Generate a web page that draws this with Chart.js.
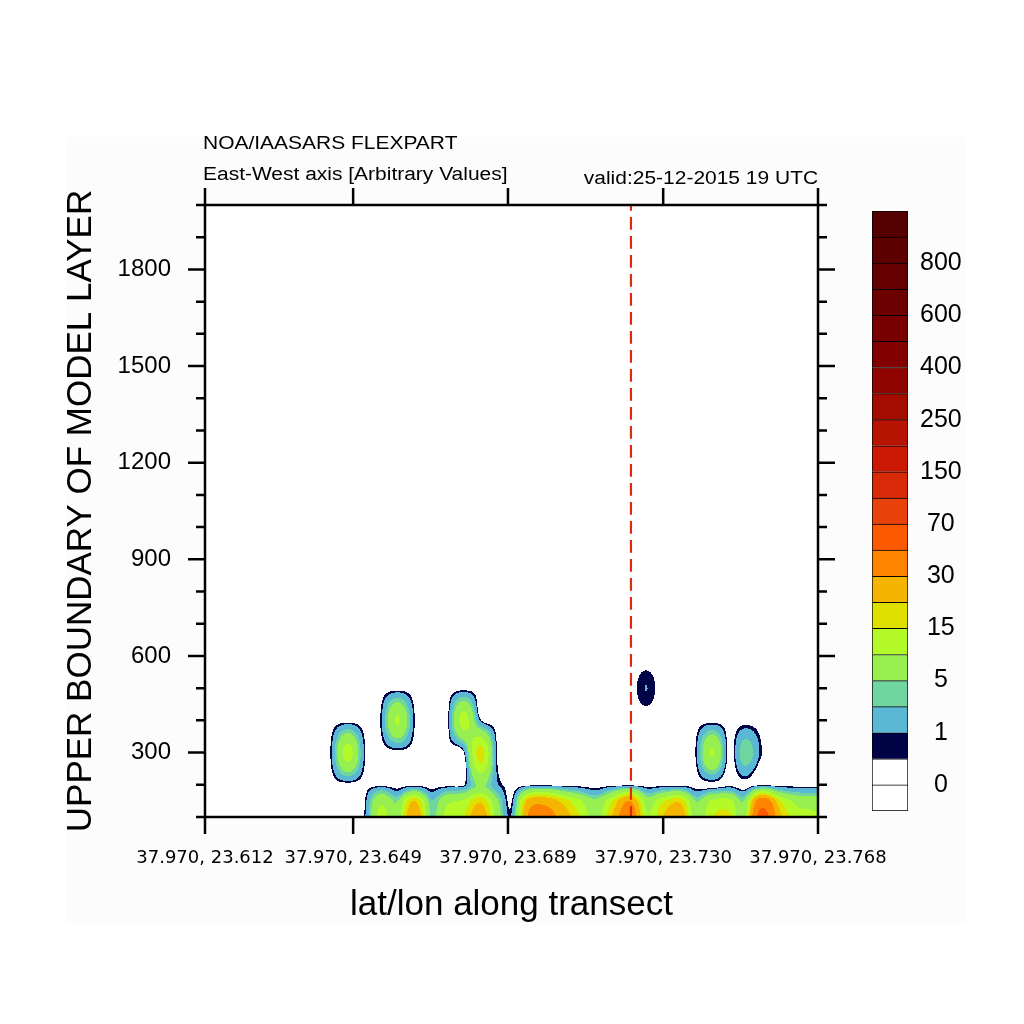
<!DOCTYPE html>
<html>
<head>
<meta charset="utf-8">
<script src="https://cdn.jsdelivr.net/npm/chart.js@4.4.0/dist/chart.umd.min.js"></script>
<style>
  html, body { margin: 0; padding: 0; background: #fff; }
  body { width: 1024px; height: 1024px; position: relative; overflow: hidden; font-family: "Liberation Sans", Arial, sans-serif; }
  #panel { position: absolute; left: 67px; top: 137px; width: 898px; height: 786px; background: #fcfcfc; }
  #main { position: absolute; left: 0; top: 0; }
  #bar { position: absolute; left: 860px; top: 184px; }
  .txt { position: absolute; font-size: 18px; line-height: 18px; white-space: nowrap; color: #000; }
</style>
</head>
<body>
<div id="panel"></div>
<canvas id="main" width="1024" height="1024"></canvas>
<canvas id="bar" width="150" height="654"></canvas>
<div class="txt" style="left:203px;top:134px;transform:scaleX(1.165);transform-origin:left top;">NOA/IAASARS FLEXPART</div>
<div class="txt" style="left:203px;top:165px;transform:scaleX(1.165);transform-origin:left top;">East-West axis [Arbitrary Values]</div>
<div class="txt" style="right:206px;top:169px;transform:scaleX(1.165);transform-origin:right top;">valid:25-12-2015 19 UTC</div>
<script>
// axis ranges and ticks
const xMin = 23.612, xMax = 23.768;
const xTickPos = [23.612, 23.6497, 23.6891, 23.7286, 23.768];
const xTickLabels = ["37.970, 23.612", "37.970, 23.649", "37.970, 23.689", "37.970, 23.730", "37.970, 23.768"];
const yMin = 100, yMax = 2000;
const yTickVals = [300, 600, 900, 1200, 1500, 1800];
const yMinorStep = 100;

// release point marker (dashed line)
const markerLon = 23.7204;

// grid along the transect (39 columns)
const lon0 = 23.6104, dLon = 0.004216;
const rowHeights = [100, 150, 175, 200, 300, 400, 500, 600];

// concentration per model layer height, one value per column
const conc100 = [0,0,0,0,0,0,0,0,0,0, 0.55,12,7,28,5,12,15,26,8,2.3, 34,36,25,15,8,21,42,11,20,27, 7,15,16,9,60,24,13,11,10];
const conc150 = [0,0,0,0,0,0,0,0,0,0, 0.3,9,5,20,3.5,9,11,19,6,1.2, 25,26,18,11,6,15,30,8,14,19, 5,11,12,6,40,17,9,8,7];
const conc175 = [0,0,0,0,0,0,0,0,0,0, 0.1,4.5,1.5,7,1.2,4,5,10,3,0.4, 10,11,7,4,1.8,6,12,3,5,7, 1.5,4,4.5,1.8,14,6,3.5,3,3];
const conc200 = [0,0,0,0,0,0,0,0,0,0, 0,0,0,0,0,0,0.3,6,1.2,0, 0,0,0,0,0,0,0,0,0,0, 0,0,0,0,0,0,0,0,0];
const conc300 = [0,0,0,0,0,0,0,0,0.8,12, 0.8,0,0,0,0,0,0.4,17,0.55,0, 0,0,0,0,0,0,0,0,0,0, 0.6,10.5,0,4.5,0.5,0,0,0,0];
const conc400 = [0,0,0,0,0,0,0,0,0,0, 0,0.7,10.5,0.7,0,0,12,0.8,0,0, 0,0,0,0,0,0,0,0,0,0, 0,0,0,0,0,0,0,0,0];
const conc500 = [0,0,0,0,0,0,0,0,0,0, 0,0,0,0,0,0,0,0,0,0, 0,0,0,0,0,0,0,1.02,0,0, 0,0,0,0,0,0,0,0,0];
const conc600 = [0,0,0,0,0,0,0,0,0,0, 0,0,0,0,0,0,0,0,0,0, 0,0,0,0,0,0,0,0,0,0, 0,0,0,0,0,0,0,0,0];
const rows = [conc100, conc150, conc175, conc200, conc300, conc400, conc500, conc600];

// contour levels and colours
const levels = [0, 0.5, 1, 3, 5, 10, 15, 20, 30, 50, 70, 100, 150, 200, 250, 300, 400, 500, 600, 700, 800, 900];
const levelColors = ["#ffffff", "#ffffff", "#000446", "#5ab8d4", "#70d6a0", "#98f050", "#b4fa28", "#e0e000",
  "#f5b400", "#ff8400", "#fd5900", "#e8420a", "#d82a08", "#cb1a04", "#b81404", "#a40c00", "#900400",
  "#820000", "#780000", "#6c0000", "#640000", "#5c0000", "#540000"];

const rgb = levelColors.map(h => [parseInt(h.slice(1, 3), 16), parseInt(h.slice(3, 5), 16), parseInt(h.slice(5, 7), 16)]);

function levelIndex(v) {
  let i = 0;
  while (i < levels.length && v >= levels[i]) i++;
  return i;
}

function cr(p0, p1, p2, p3, t) {
  return 0.5 * (2 * p1 + (p2 - p0) * t + (2 * p0 - 5 * p1 + 4 * p2 - p3) * t * t + (3 * p1 - p0 - 3 * p2 + p3) * t * t * t);
}

function cell(j, i) {
  if (j >= rows.length) return 0;
  if (j < 0) j = 0;
  const r = rows[j];
  if (i < 0) i = 0;
  if (i > r.length - 1) i = r.length - 1;
  return r[i];
}

// cubic (Catmull-Rom) interpolation between grid nodes
function fieldAt(lon, h) {
  if (h >= rowHeights[rowHeights.length - 1]) return 0;
  const fx = (lon - lon0) / dLon;
  const i = Math.floor(fx), u = fx - i;
  let j = 0;
  while (j < rowHeights.length - 2 && h > rowHeights[j + 1]) j++;
  const v = Math.min(1, Math.max(0, (h - rowHeights[j]) / (rowHeights[j + 1] - rowHeights[j])));
  const r = [];
  for (let k = -1; k <= 2; k++) {
    r.push(cr(cell(j + k, i - 1), cell(j + k, i), cell(j + k, i + 1), cell(j + k, i + 2), u));
  }
  return cr(r[0], r[1], r[2], r[3], v);
}

const fieldPlugin = {
  id: "field",
  beforeDatasetsDraw(chart) {
    const { ctx, chartArea: a, scales: { x, y } } = chart;
    const w = Math.round(a.right - a.left), h = Math.round(a.bottom - a.top);
    const off = document.createElement("canvas");
    off.width = w;
    off.height = h;
    const octx = off.getContext("2d");
    const img = octx.createImageData(w, h);
    for (let py = 0; py < h; py++) {
      const hv = y.getValueForPixel(a.top + py + 0.5);
      for (let px = 0; px < w; px++) {
        const lon = x.getValueForPixel(a.left + px + 0.5);
        const col = rgb[levelIndex(fieldAt(lon, hv))];
        const k = (py * w + px) * 4;
        img.data[k] = col[0];
        img.data[k + 1] = col[1];
        img.data[k + 2] = col[2];
        img.data[k + 3] = 255;
      }
    }
    octx.putImageData(img, 0, 0);
    ctx.drawImage(off, a.left, a.top, w, h);
  }
};

// frame plus outward tick marks on all four sides
const framePlugin = {
  id: "frame",
  afterDraw(chart) {
    const { ctx, chartArea: a, scales: { x, y } } = chart;
    ctx.save();
    ctx.strokeStyle = "#000";
    ctx.lineWidth = 2.5;
    ctx.beginPath();
    xTickPos.forEach(v => {
      const p = x.getPixelForValue(v);
      ctx.moveTo(p, a.bottom); ctx.lineTo(p, a.bottom + 17);
      ctx.moveTo(p, a.top); ctx.lineTo(p, a.top - 17);
    });
    for (let v = yMin; v <= yMax; v += yMinorStep) {
      const p = y.getPixelForValue(v);
      const len = yTickVals.includes(v) ? 17 : 9;
      ctx.moveTo(a.left, p); ctx.lineTo(a.left - len, p);
      ctx.moveTo(a.right, p); ctx.lineTo(a.right + len, p);
    }
    ctx.stroke();
    ctx.strokeRect(a.left, a.top, a.right - a.left, a.bottom - a.top);
    ctx.restore();
  }
};

const noGrid = { display: false, drawTicks: false };
const noBorder = { display: false };

new Chart(document.getElementById("main"), {
  type: "scatter",
  data: {
    datasets: [{
      data: [{ x: markerLon, y: yMin }, { x: markerLon, y: yMax }],
      showLine: true,
      borderColor: "#dd2a10",
      borderWidth: 2.2,
      borderDash: [12.7, 6.3],
      borderDashOffset: 1.7,
      pointRadius: 0
    }]
  },
  options: {
    responsive: false,
    animation: false,
    layout: { padding: 0 },
    plugins: { legend: { display: false }, tooltip: { enabled: false } },
    scales: {
      x: {
        type: "linear", position: "bottom", min: xMin, max: xMax,
        afterBuildTicks: s => { s.ticks = xTickPos.map(v => ({ value: v })); },
        afterFit: s => { s.height = 207; },
        ticks: {
          callback: (val, i) => xTickLabels[i],
          font: { family: "DejaVu Sans", size: 18 }, color: "#000",
          padding: 31, maxRotation: 0, autoSkip: false
        },
        grid: noGrid, border: noBorder,
        title: {
          display: true, text: "lat/lon along transect", color: "#000",
          font: { family: "Liberation Sans", size: 35 }, padding: { top: 0, bottom: 98 }
        }
      },
      x2: {
        type: "linear", position: "top", min: xMin, max: xMax,
        afterBuildTicks: s => { s.ticks = xTickPos.map(v => ({ value: v })); },
        afterFit: s => { s.height = 205; },
        ticks: { display: false }, grid: noGrid, border: noBorder
      },
      y: {
        type: "linear", position: "left", min: yMin, max: yMax,
        afterBuildTicks: s => { s.ticks = yTickVals.map(v => ({ value: v })); },
        afterFit: s => { s.width = 205; },
        ticks: {
          callback: v => String(v),
          font: { family: "Liberation Sans", size: 24 }, color: "#000", padding: 34, autoSkip: false
        },
        grid: noGrid, border: noBorder,
        title: {
          display: true, text: "UPPER BOUNDARY OF MODEL LAYER", color: "#000",
          font: { family: "Liberation Sans", size: 35 }, padding: { top: 60, bottom: 0 }
        }
      },
      y2: {
        type: "linear", position: "right", min: yMin, max: yMax,
        afterFit: s => { s.width = 206; },
        ticks: { display: false }, grid: noGrid, border: noBorder
      }
    }
  },
  plugins: [fieldPlugin, framePlugin]
});

// colour bar: one stacked box per level interval
new Chart(document.getElementById("bar"), {
  type: "bar",
  data: {
    labels: [""],
    datasets: levelColors.map((c, i) => ({
      data: [1],
      backgroundColor: c,
      borderColor: "#000",
      borderWidth: 1,
      borderSkipped: i === 0 ? false : "start",
      barPercentage: 1,
      categoryPercentage: 1
    }))
  },
  options: {
    responsive: false,
    animation: false,
    layout: { padding: { left: 12, top: 0, bottom: 0, right: 0 } },
    plugins: { legend: { display: false }, tooltip: { enabled: false } },
    scales: {
      x: { display: false, stacked: true },
      y: {
        stacked: true, position: "right", min: 0, max: levelColors.length,
        afterBuildTicks: s => { s.ticks = levels.map((v, i) => ({ value: i + 1 })).filter((t, i) => i % 2 === 0); },
        afterFit: s => { s.width = 102; },
        ticks: {
          callback: val => String(levels[val - 1]),
          font: { family: "Liberation Sans", size: 25 }, color: "#000",
          padding: 12, crossAlign: "center", autoSkip: false
        },
        grid: noGrid, border: noBorder
      }
    }
  }
});
</script>
</body>
</html>
